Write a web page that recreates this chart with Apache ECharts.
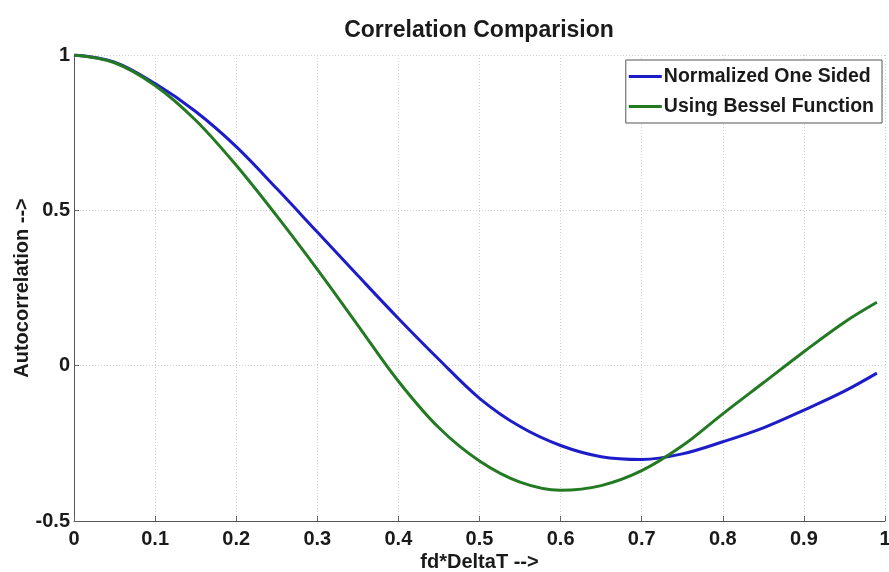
<!DOCTYPE html>
<html>
<head>
<meta charset="utf-8">
<script src="https://cdn.jsdelivr.net/npm/echarts@6/dist/echarts.min.js"></script>
<style>html,body{margin:0;padding:0;background:#fff;}#c{width:889px;height:572px;}</style>
</head>
<body>
<div id="c"></div>
<script>
var xValues = [0, 0.05, 0.1, 0.15, 0.2, 0.25, 0.3, 0.35, 0.4, 0.45, 0.5, 0.55, 0.6, 0.65, 0.7, 0.75, 0.8, 0.85, 0.9, 0.95, 0.99];
var normalizedOneSided = [1.0, 0.977, 0.908, 0.818, 0.705, 0.57, 0.43, 0.29, 0.152, 0.02, -0.105, -0.196, -0.257, -0.293, -0.302, -0.284, -0.245, -0.2, -0.143, -0.082, -0.024];
var usingBessel = [1.0, 0.975, 0.902, 0.79, 0.645, 0.482, 0.31, 0.13, -0.05, -0.2, -0.307, -0.375, -0.401, -0.386, -0.338, -0.258, -0.155, -0.055, 0.045, 0.14, 0.204];
var seriesNames = ['Normalized One Sided', 'Using Bessel Function'];
var titleText = 'Correlation Comparision';
var xName = 'fd*DeltaT -->';
var yName = 'Autocorrelation -->';

function pairs(xs, ys) { return xs.map(function (x, i) { return [x, ys[i]]; }); }

var FONT = "'Liberation Sans', Arial, Helvetica, sans-serif";
var chart = echarts.init(document.getElementById('c'), null, { renderer: 'canvas' });
chart.setOption({
  animation: false,
  backgroundColor: '#ffffff',
  title: {
    text: titleText, left: 474, top: 14, textAlign: 'center',
    textStyle: { fontFamily: FONT, fontWeight: 'bold', fontSize: 23, color: '#1a1a1a' }
  },
  legend: {
    orient: 'vertical', right: 7, top: 60,
    backgroundColor: '#fff', borderColor: '#555', borderWidth: 1,
    padding: [6, 8, 6, 3], itemGap: 9, itemWidth: 33, itemHeight: 3, icon: 'rect',
    textStyle: { fontFamily: FONT, fontWeight: 'bold', fontSize: 19.5, color: '#1a1a1a', padding: [0, 0, 0, -3], lineHeight: 21 },
    data: seriesNames
  },
  grid: { left: 74, right: 4, top: 55, bottom: 51, containLabel: false, outerBoundsMode: 'none' },
  xAxis: {
    type: 'value', min: 0, max: 1, interval: 0.1,
    name: xName, nameLocation: 'middle', nameGap: 31, nameMoveOverlap: false,
    nameTextStyle: { fontFamily: FONT, fontWeight: 'bold', fontSize: 20, color: '#1a1a1a' },
    axisLine: { show: true, onZero: false, lineStyle: { color: '#555', width: 1 } },
    axisTick: { show: true, inside: true, length: 5, lineStyle: { color: '#666' } },
    axisLabel: { margin: 8, fontFamily: FONT, fontWeight: 'bold', fontSize: 20, color: '#1a1a1a',
      hideOverlap: false,
      formatter: function (v) { return String(+v.toFixed(1)); } },
    splitLine: { show: true, lineStyle: { color: '#d0d0d0', type: [1, 2] } }
  },
  yAxis: {
    type: 'value', min: -0.5, max: 1, interval: 0.5,
    name: yName, nameLocation: 'middle', nameGap: 42, nameMoveOverlap: false,
    nameTextStyle: { fontFamily: FONT, fontWeight: 'bold', fontSize: 20, color: '#1a1a1a' },
    axisLine: { show: true, onZero: false, lineStyle: { color: '#555', width: 1 } },
    axisTick: { show: true, inside: true, length: 5, lineStyle: { color: '#666' } },
    axisLabel: { margin: 4, fontFamily: FONT, fontWeight: 'bold', fontSize: 20, color: '#1a1a1a',
      formatter: function (v) { return String(+v.toFixed(1)); } },
    splitLine: { show: true, lineStyle: { color: '#d0d0d0', type: [1, 2] } }
  },
  series: [
    { name: seriesNames[0], type: 'line', data: pairs(xValues, normalizedOneSided), smooth: 0.35,
      showSymbol: false, lineStyle: { color: '#1c1cc8', width: 3 }, itemStyle: { color: '#1c1cc8' }, z: 2 },
    { name: seriesNames[1], type: 'line', data: pairs(xValues, usingBessel), smooth: 0.35,
      showSymbol: false, lineStyle: { color: '#237a23', width: 3 }, itemStyle: { color: '#237a23' }, z: 3 }
  ]
});
</script>
</body>
</html>
